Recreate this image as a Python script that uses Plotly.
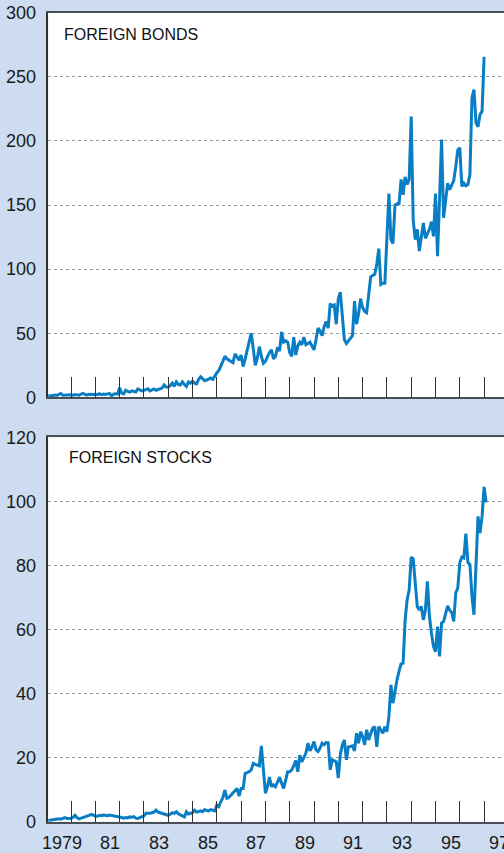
import plotly.graph_objects as go

# ---------------- data ----------------
start_year = 1979

# Foreign bonds, monthly, Jan 1979 .. Jan 1997
bonds = (
    [1.5, 1.2, 1.0, 1.4, 1.8, 1.5, 2.0, 3.0, 1.6, 1.8, 1.5, 2.0]          # 1979
    + [2.0, 1.7, 2.2, 1.9, 1.6, 2.4, 3.0, 2.2, 1.8, 2.3, 2.0, 2.2]        # 1980
    + [2.4, 2.1, 2.8, 2.0, 2.5, 2.2, 2.7, 3.0, 1.2, 2.4, 2.8, 2.5]        # 1981
    + [7.5, 3.2, 2.6, 5.5, 4.6, 4.0, 5.0, 4.4, 4.2, 6.5, 5.4, 5.0]        # 1982
    + [5.4, 6.0, 6.6, 5.0, 6.0, 6.5, 5.5, 6.2, 6.6, 7.2, 9.6, 8.0]        # 1983
    + [7.8, 9.0, 11.0, 8.5, 12.0, 10.0, 9.6, 12.0, 10.0, 8.5, 12.0, 11.0]  # 1984
    + [12.5, 11.0, 10.5, 14.0, 16.0, 14.5, 13.0, 13.5, 14.5, 15.0, 14.0, 17.0]  # 1985
    + [19, 21, 24, 28, 32, 30, 29, 28, 27, 34, 31, 29]                    # 1986
    + [33, 24, 30, 36, 42, 50, 38, 25, 30.5, 39.5, 32, 26.5]              # 1987
    + [28, 32, 35, 37, 30, 32, 39, 36, 51, 43, 44, 43]                    # 1988
    + [35, 32, 47, 33, 40, 43, 41, 47, 41, 42, 43, 40]                    # 1989
    + [37, 45, 54, 52, 48, 55, 59, 54, 73, 71, 72, 57]                    # 1990
    + [77, 82, 60, 45, 42, 44, 46, 48, 75, 57, 65, 77]                    # 1991
    + [70, 67, 66, 80, 94, 95, 96, 104, 116, 88, 89, 89]                  # 1992
    + [125, 159, 123, 120, 150, 151, 151, 170, 158, 172, 166, 170]        # 1993
    + [219, 138, 123, 131, 114, 125, 136, 124, 128, 131, 137, 125.5]      # 1994
    + [159, 110, 155, 201, 140, 151.5, 167, 162, 166, 169, 180, 193]      # 1995
    + [194.5, 164.5, 167, 165, 166, 173.7, 233.5, 240, 214, 211, 220.5, 223]  # 1996
    + [265.6]                                                              # 1997
)

# Foreign stocks, monthly, Jan 1979 .. Feb 1997
stocks = (
    [0.3, 0.4, 0.5, 0.6, 0.8, 1.0, 0.9, 0.8, 1.1, 1.3, 1.0, 0.9]          # 1979
    + [1.0, 1.4, 2.0, 1.2, 0.9, 1.1, 1.3, 1.5, 1.6, 2.0, 2.3, 2.0]        # 1980
    + [1.8, 1.7, 2.0, 1.9, 2.1, 2.0, 1.8, 2.1, 2.0, 1.8, 1.6, 1.5]        # 1981
    + [1.5, 1.3, 1.1, 1.3, 1.2, 1.5, 1.4, 1.6, 1.1, 1.0, 1.3, 1.6]        # 1982
    + [1.8, 2.6, 2.5, 2.6, 2.8, 3.0, 3.6, 3.0, 2.8, 2.6, 2.2, 2.0]        # 1983
    + [2.0, 2.3, 2.8, 2.6, 3.1, 2.5, 2.0, 1.8, 1.5, 3.1, 2.4, 2.6]        # 1984
    + [2.8, 3.6, 3.0, 3.2, 3.4, 3.1, 3.8, 3.5, 3.4, 3.8, 3.6, 3.4]        # 1985
    + [5.2, 4.7, 6.3, 7.5, 9.9, 7.3, 7.6, 8.3, 9.0, 10.0, 10.4, 8.0]      # 1986
    + [10.4, 10.4, 15.1, 15.3, 15.6, 16.2, 18.2, 17.9, 17.7, 17.4, 23.7, 15.0]  # 1987
    + [8.9, 10.9, 13.9, 10.9, 11.5, 10.9, 12.5, 13.9, 12.0, 10.4, 13.0, 15.6]   # 1988
    + [15.6, 16.2, 17.5, 19.1, 15.6, 20.8, 18.7, 20.0, 21.4, 24.5, 22.1, 23.3]  # 1989
    + [25.0, 22.4, 21.9, 23.0, 24.5, 24.0, 24.7, 24.6, 16.2, 19.3, 19.0, 18.7]  # 1990
    + [13.6, 21.0, 24.0, 25.5, 19.3, 23.4, 23.5, 23.7, 22.1, 27.6, 24.5, 28.1]  # 1991
    + [26.6, 24.0, 28.7, 25.5, 27.5, 29.2, 29.7, 23.4, 29.7, 28.5, 27.6, 29.7]  # 1992
    + [28.1, 32.8, 42.7, 37.0, 41.0, 44.3, 47.0, 49.3, 49.5, 63.0, 69.3, 72.4]  # 1993
    + [82.6, 82.0, 74.5, 67.2, 66.1, 67.2, 63.0, 66.1, 75.0, 64.1, 58.9, 54.7]  # 1994
    + [53.1, 60.9, 51.6, 62.0, 62.5, 65.0, 67.4, 66.0, 65.3, 62.5, 71.4, 72.9]  # 1995
    + [80.8, 82.6, 82.3, 89.9, 80.9, 80.3, 70.3, 64.6, 80.8, 95.3, 90.1, 95.3]  # 1996
    + [104.5, 99.7]                                                            # 1997
)

panel_titles = ["FOREIGN BONDS", "FOREIGN STOCKS"]
year_ticks = list(range(1980, 1998))
label_years = list(range(1979, 1998, 2))
label_text = ["1979", "81", "83", "85", "87", "89", "91", "93", "95", "97"]
bond_ticks = [0, 50, 100, 150, 200, 250, 300]
stock_ticks = [0, 20, 40, 60, 80, 100, 120]

# ---------------- figure ----------------
W, H = 504, 853
BG = "#cddcf0"
LINE = "#0a7ec4"
FONT = "Liberation Sans, Arial, Helvetica, sans-serif"
NARROW = "Liberation Sans Narrow, Arial Narrow, Liberation Sans, Arial, sans-serif"

bx = [start_year + i / 12 for i in range(len(bonds))]
sx = [start_year + i / 12 for i in range(len(stocks))]

fig = go.Figure()
fig.add_trace(go.Scatter(x=bx, y=bonds, mode="lines", xaxis="x", yaxis="y",
                         line=dict(color=LINE, width=3), showlegend=False))
fig.add_trace(go.Scatter(x=sx, y=stocks, mode="lines", xaxis="x2", yaxis="y2",
                         line=dict(color=LINE, width=3), showlegend=False))

x_left = 48.3 / W
xrange = [1979.066, 1979 + (W - 46.7) / 24.3]

def py(p):
    return 1 - p / H

xcommon = dict(range=xrange, domain=[x_left, 1], tickmode="array", tickvals=year_ticks,
               ticks="inside", ticklen=21, tickwidth=1, tickcolor="#333",
               showticklabels=False, showgrid=False, zeroline=False, automargin=False,
               showline=True, linecolor="#4a4e55", linewidth=1.5, mirror=True)
ycommon = dict(tickmode="array", ticks="", showgrid=True, gridcolor="#9a9a9a",
               griddash="dot", gridwidth=1, zeroline=False, showline=True,
               linecolor="#333", linewidth=1.5, automargin=False,
               tickfont=dict(family=FONT, size=18, color="#1a1a1a"),
               ticklabelstandoff=7)

fig.update_layout(
    template="none",
    width=W, height=H,
    margin=dict(l=0, r=0, t=0, b=0, pad=0),
    paper_bgcolor=BG, plot_bgcolor="white",
    xaxis=dict(anchor="y", **xcommon),
    xaxis2=dict(anchor="y2", **xcommon),
    yaxis=dict(anchor="x", domain=[py(397.3), py(12.7)], range=[0, 300],
               tickvals=bond_ticks, **ycommon),
    yaxis2=dict(anchor="x2", domain=[py(821.7), py(437.3)], range=[0, 120],
                tickvals=stock_ticks, **ycommon),
)

annotations = [
    dict(text=panel_titles[0], xref="paper", yref="paper", x=62 / W, y=py(35),
         xanchor="left", yanchor="middle", showarrow=False,
         font=dict(family=NARROW, size=16, color="#111")),
    dict(text=panel_titles[1], xref="paper", yref="paper", x=67 / W, y=py(458),
         xanchor="left", yanchor="middle", showarrow=False,
         font=dict(family=NARROW, size=16, color="#111")),
]
for yr, txt in zip(label_years, label_text):
    annotations.append(dict(text=txt, xref="x2", yref="paper", x=yr + 0.62, y=py(843),
                            xanchor="center", yanchor="middle", showarrow=False,
                            font=dict(family=FONT, size=18, color="#1a1a1a")))
fig.update_layout(annotations=annotations)

fig.write_html("out.html", config={"displayModeBar": False},
               post_script="document.body.style.margin='0';")
